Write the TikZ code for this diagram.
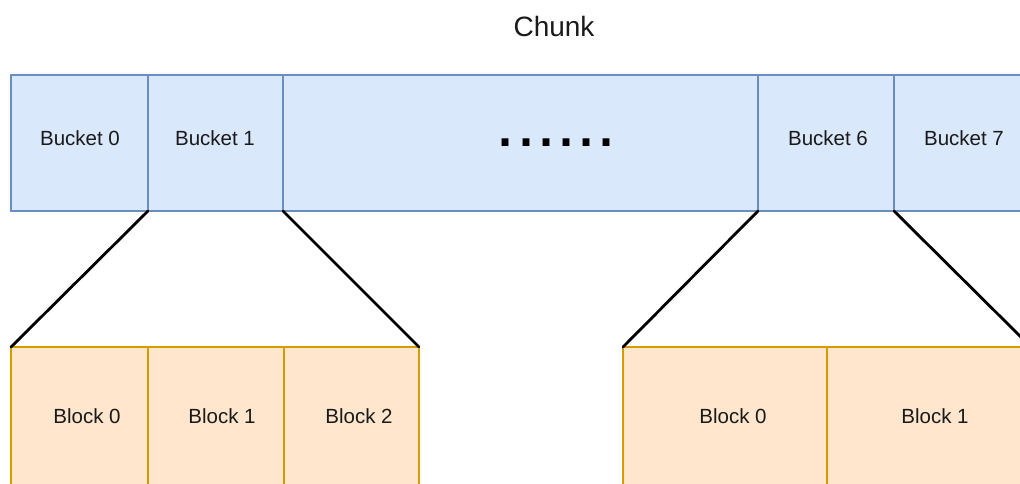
\documentclass[tikz,border=0pt]{standalone}
\usepackage{fontspec}
\setmainfont{Liberation Sans}
\definecolor{bucketfill}{HTML}{DAE8FC}
\definecolor{bucketline}{HTML}{6C8EBF}
\definecolor{blockfill}{HTML}{FFE6CC}
\definecolor{blockline}{HTML}{D79B00}
\definecolor{labeltext}{HTML}{1A1A1A}
\begin{document}
\begin{tikzpicture}[x=1pt,y=-1pt,
  cell/.style={draw, line width=2.8pt, outer sep=0pt, inner sep=0pt, anchor=north west},
  bucketbox/.style={cell, draw=bucketline, fill=bucketfill, minimum height=136pt},
  blockbox/.style={cell, draw=blockline, fill=blockfill, minimum height=150pt},
  celltext/.style={text=labeltext, inner sep=0pt, anchor=base, font=\fontsize{20.5}{24}\selectfont},
  fan/.style={draw=black, line width=2.8pt, line cap=round}]
\useasboundingbox (0,0) rectangle (1020,483);
\clip (0,0) rectangle (1020,483);

% title
\node[text=labeltext, inner sep=0pt, anchor=base, font=\fontsize{28}{32}\selectfont] (title) at (554,36) {Chunk};

% chunk row: buckets
\node[bucketbox, minimum width=137pt] (b0) at (11,75) {};
\node[bucketbox, minimum width=135pt] (b1) at (148,75) {};
\node[bucketbox, minimum width=475pt] (bmid) at (283,75) {};
\node[bucketbox, minimum width=136pt] (b6) at (758,75) {};
\node[bucketbox, minimum width=140pt] (b7) at (894,75) {};

\node[celltext] (t0) at (80,145.5) {Bucket 0};
\node[celltext] (t1) at (215,145.5) {Bucket 1};
\node[text=black, inner sep=0pt, anchor=base, font=\fontsize{72}{72}\selectfont] (dots) at (556,146) {......};
\node[celltext] (t6) at (828,145.5) {Bucket 6};
\node[celltext] (t7) at (964,145.5) {Bucket 7};

% blocks of bucket 1
\node[blockbox, minimum width=137pt] (l0) at (11,347) {};
\node[blockbox, minimum width=136pt] (l1) at (148,347) {};
\node[blockbox, minimum width=135pt] (l2) at (284,347) {};
\node[celltext] (lt0) at (87,423) {Block 0};
\node[celltext] (lt1) at (222,423) {Block 1};
\node[celltext] (lt2) at (359,423) {Block 2};

% blocks of bucket 7
\node[blockbox, minimum width=204pt] (r0) at (623,347) {};
\node[blockbox, minimum width=204pt] (r1) at (827,347) {};
\node[celltext] (rt0) at (733,423) {Block 0};
\node[celltext] (rt1) at (935,423) {Block 1};

% fan-out lines from buckets to their blocks
\draw[fan] (b1.south west) -- (l0.north west);
\draw[fan] (b1.south east) -- (l2.north east);
\draw[fan] (b6.south west) -- (r0.north west);
\draw[fan] (b7.south west) -- (r1.north east);
\end{tikzpicture}
\end{document}
